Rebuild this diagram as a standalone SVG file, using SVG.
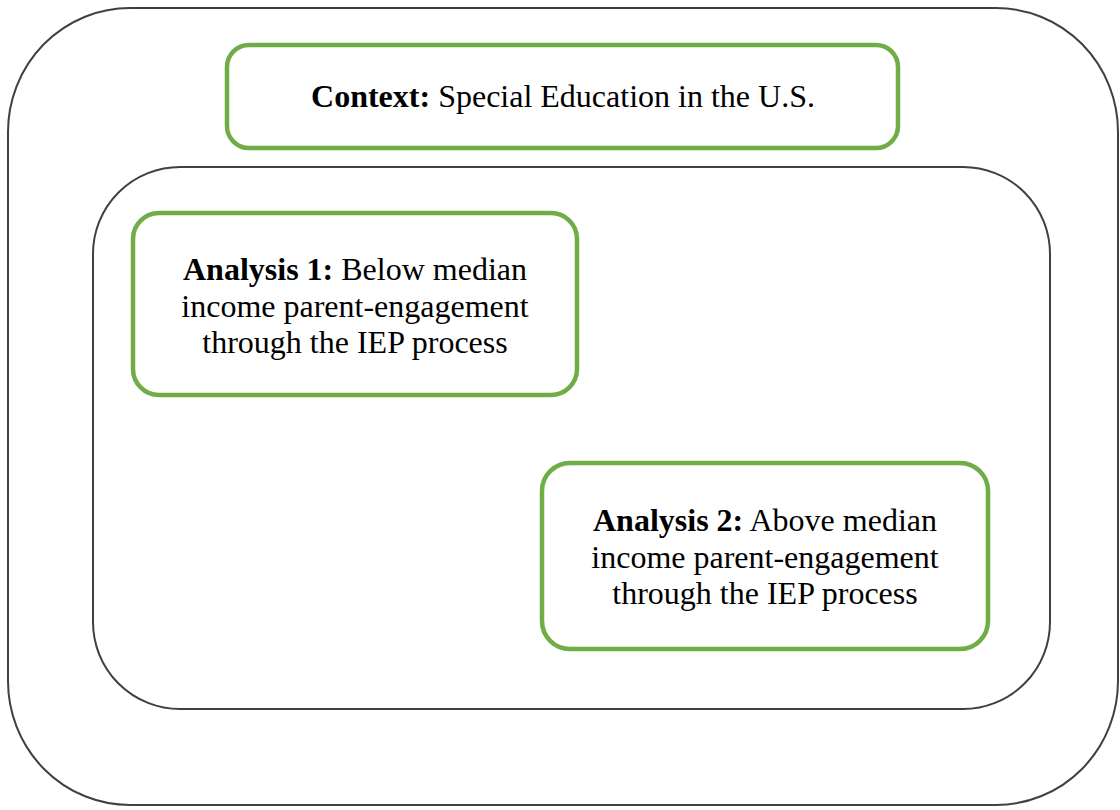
<svg xmlns="http://www.w3.org/2000/svg" width="1120" height="810" viewBox="0 0 1120 810">
<style>
.frame{fill:none;stroke:#404040;stroke-width:2}
.box{fill:#ffffff;stroke:#70AD47;stroke-width:4.5}
text{font-family:"Liberation Serif","Times New Roman",serif;font-size:32px;fill:#000;text-anchor:middle}
.b{font-weight:bold}
</style>
<rect width="1120" height="810" fill="#ffffff"/>
<g id="outer-frame"><rect class="frame" x="8" y="8" width="1110" height="797" rx="122" ry="124"/></g>
<g id="inner-frame"><rect class="frame" x="93" y="167" width="957" height="542" rx="87" ry="87"/></g>
<g id="context">
<rect class="box" x="227" y="45" width="671" height="103" rx="22" ry="22"/>
<text x="563" y="107"><tspan class="b">Context:</tspan> Special Education in the U.S.</text>
</g>
<g id="analysis1">
<rect class="box" x="133" y="213" width="444" height="182" rx="26" ry="26"/>
<text x="355" y="280"><tspan class="b">Analysis 1:</tspan> Below median</text>
<text x="355" y="317">income parent-engagement</text>
<text x="355" y="353">through the IEP process</text>
</g>
<g id="analysis2">
<rect class="box" x="542" y="463" width="446" height="186" rx="28" ry="28"/>
<text x="765" y="531"><tspan class="b">Analysis 2:</tspan> Above median</text>
<text x="765" y="568">income parent-engagement</text>
<text x="765" y="604">through the IEP process</text>
</g>
<g id="connectors"></g>
</svg>
